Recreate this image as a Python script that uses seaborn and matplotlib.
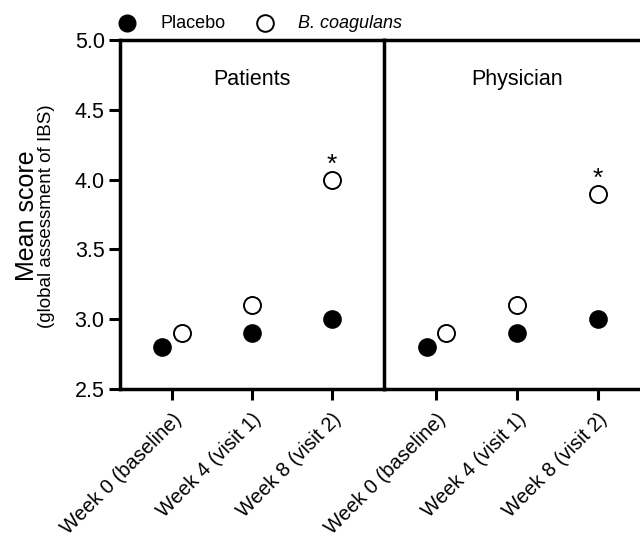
import seaborn as sns
import pandas as pd
import numpy as np
import matplotlib.pyplot as plt
from matplotlib.lines import Line2D

weeks = ['Week 0 (baseline)', 'Week 4 (visit 1)', 'Week 8 (visit 2)']
panels = ['Patients', 'Physician']
placebo_patients = [2.8, 2.9, 3.0]
coag_patients = [2.9, 3.1, 4.0]
placebo_physician = [2.8, 2.9, 3.0]
coag_physician = [2.9, 3.1, 3.9]
star_panels = ['Patients', 'Physician']
star_week = 'Week 8 (visit 2)'

# small horizontal dodge so baseline dots don't overlap
dodge = {'Placebo': [-0.12, 0, 0], 'B. coagulans': [0.12, 0, 0]}

rows = []
for panel, pl, bc in [('Patients', placebo_patients, coag_patients),
                      ('Physician', placebo_physician, coag_physician)]:
    for i, w in enumerate(weeks):
        rows.append({'panel': panel, 'week': w, 'group': 'Placebo', 'score': pl[i],
                     'x': i + dodge['Placebo'][i]})
        rows.append({'panel': panel, 'week': w, 'group': 'B. coagulans', 'score': bc[i],
                     'x': i + dodge['B. coagulans'][i]})
df = pd.DataFrame(rows)

sns.set_style('ticks', {'axes.edgecolor': 'black', 'xtick.color': 'black',
                        'ytick.color': 'black', 'text.color': 'black', 'axes.labelcolor': 'black'})
plt.rcParams['font.family'] = ['Liberation Sans', 'DejaVu Sans']

fig = plt.figure(figsize=(6.4, 5.4), dpi=100)
W, H = 640, 540
bottom = (H - 389) / H
height = 349 / H
ax1 = fig.add_axes([120 / W, bottom, 264 / W, height])
ax2 = fig.add_axes([384 / W, bottom, 262 / W, height])

for ax, panel, xmax in [(ax1, 'Patients', 2.65), (ax2, 'Physician', 2.6)]:
    sub = df[df['panel'] == panel]
    sns.scatterplot(data=sub[sub['group'] == 'Placebo'], x='x', y='score', ax=ax,
                    color='black', edgecolor='black', s=150, linewidth=1.2, legend=False, zorder=3)
    sns.scatterplot(data=sub[sub['group'] == 'B. coagulans'], x='x', y='score', ax=ax,
                    color='white', edgecolor='black', s=150, linewidth=1.4, legend=False, zorder=3)
    ax.set_xlim(-0.65, xmax)
    ax.set_ylim(2.5, 5.0)
    ax.set_xticks(range(len(weeks)))
    ax.set_xticklabels(weeks, rotation=45, ha='right', rotation_mode='anchor', fontsize=14.5)
    ax.set_xlabel('')
    ax.set_ylabel('')
    ax.text(1, 4.72, panel, ha='center', va='center', fontsize=15.5)
    if panel in star_panels:
        idx = weeks.index(star_week)
        yv = sub[(sub['group'] == 'B. coagulans') & (sub['week'] == star_week)]['score'].iloc[0]
        ax.text(idx, yv + 0.02, '*', ha='center', va='bottom', fontsize=19)
    for sp in ['left', 'bottom', 'top']:
        ax.spines[sp].set_linewidth(2.5)
    ax.spines['right'].set_visible(False)
    ax.tick_params(axis='both', width=2.2, length=8, labelsize=15.5, pad=3)
    ax.tick_params(axis='x', pad=7, labelsize=14.5)

ax1.set_yticks(np.arange(2.5, 5.01, 0.5))
ax1.set_yticklabels(['%.1f' % v for v in np.arange(2.5, 5.01, 0.5)], fontsize=15.5)
ax2.set_yticks([])
ax2.tick_params(axis='y', left=False)

fig.text(27 / W, 1 - 216 / H, 'Mean score', rotation=90, ha='center', va='center', fontsize=18)
fig.text(47 / W, 1 - 216 / H, '(global assessment of IBS)', rotation=90, ha='center', va='center', fontsize=13.5)

# legend across the top
ly = 1 - 23 / H
fig.add_artist(Line2D([127 / W], [ly], marker='o', markersize=12, color='black',
                      markerfacecolor='black', transform=fig.transFigure, linestyle=''))
fig.add_artist(Line2D([265 / W], [ly], marker='o', markersize=12, color='black', markeredgewidth=1.4,
                      markerfacecolor='white', transform=fig.transFigure, linestyle=''))
fig.text(160 / W, ly, 'Placebo', ha='left', va='center', fontsize=13)
fig.text(298 / W, ly, 'B. coagulans', ha='left', va='center', fontsize=13, style='italic')

fig.savefig('out.png', dpi=100)
